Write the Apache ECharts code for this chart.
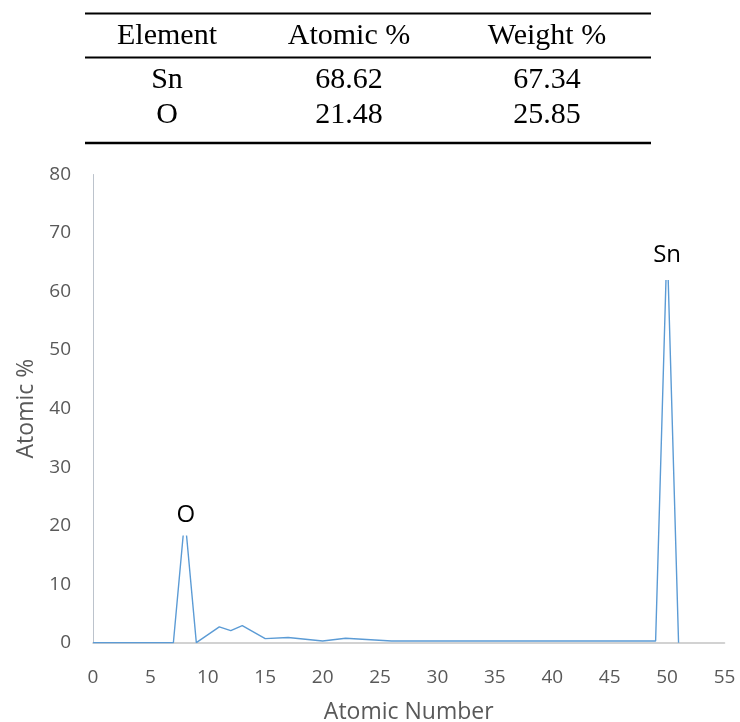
<!DOCTYPE html>
<html>
<head>
<meta charset="utf-8">
<script src="https://cdn.jsdelivr.net/npm/echarts@6/dist/echarts.min.js"></script>
<style>
html,body{margin:0;padding:0;background:#fff;}
#chart{width:740px;height:722px;}
</style>
</head>
<body>
<div id="chart"></div>
<script>
// ---- Table data ----
var tableHeader = ['Element', 'Atomic %', 'Weight %'];
var tableElements = ['Sn', 'O'];
var tableAtomic = ['68.62', '21.48'];
var tableWeight = ['67.34', '25.85'];

// ---- Spectrum data (Atomic number vs Atomic %) ----
var atomicNumbers = [0, 7, 8, 9, 11, 12, 13, 15, 17, 20, 22, 26, 49, 50, 51];
var atomicPercent = [0, 0, 21.48, 0, 2.7, 2.05, 2.9, 0.7, 0.9, 0.3, 0.75, 0.3, 0.3, 68.62, 0];
var peakLabels = {8: 'O', 50: 'Sn'};

// ---- Axis ticks ----
var xTicks = {min: 0, max: 55, interval: 5};
var yTicks = {min: 0, max: 80, interval: 10};

var labelStyles = {
  8:  {offset: [1, -1.7], padding: [5, 5, 9.5, 5]},
  50: {offset: [0, 13.6], padding: [6, 5, 18.5, 5]}
};

var seriesData = atomicNumbers.map(function (x, i) {
  var item = {value: [x, atomicPercent[i]]};
  if (peakLabels[x]) {
    item.label = {
      show: true,
      position: 'inside',
      formatter: peakLabels[x],
      color: '#000',
      fontFamily: 'Open Sans',
      fontSize: 24,
      lineHeight: 26,
      backgroundColor: '#ffffff',
      offset: labelStyles[x].offset,
      padding: labelStyles[x].padding
    };
  }
  return item;
});

// table graphics
var colX = [167, 349, 547];
var rowY = [36.5, 80.5, 115.5];
var graphics = [];
var lineYs = [13.5, 57.5, 143];
var lineWs = [2.2, 1.8, 2.4];
lineYs.forEach(function (y, i) {
  graphics.push({
    type: 'line',
    shape: {x1: 85, y1: y, x2: 651, y2: y},
    style: {stroke: '#000', lineWidth: lineWs[i]}
  });
});
function addText(t, x, y) {
  graphics.push({
    type: 'text',
    x: x, y: y,
    style: {
      text: t,
      fill: '#000',
      font: '30px "Liberation Serif", "Times New Roman", serif',
      textAlign: 'center',
      textVerticalAlign: 'middle'
    }
  });
}
tableHeader.forEach(function (h, c) { addText(h, colX[c], rowY[0]); });
tableElements.forEach(function (e, r) {
  addText(e, colX[0], rowY[r + 1]);
  addText(tableAtomic[r], colX[1], rowY[r + 1]);
  addText(tableWeight[r], colX[2], rowY[r + 1]);
});

var chart = echarts.init(document.getElementById('chart'), null, {renderer: 'canvas'});
chart.setOption({
  animation: false,
  backgroundColor: '#ffffff',
  graphic: graphics,
  grid: {left: 93, right: 15.5, top: 174.5, bottom: 79.3, containLabel: false, outerBoundsMode: 'none'},
  xAxis: {
    type: 'value',
    min: xTicks.min, max: xTicks.max, interval: xTicks.interval,
    name: 'Atomic Number',
    nameLocation: 'middle',
    nameGap: 58,
    nameTextStyle: {color: '#595959', fontFamily: 'Open Sans', fontSize: 23},
    axisLine: {show: true, onZero: false, lineStyle: {color: '#c4c4c4', width: 1.6}},
    axisTick: {show: false},
    splitLine: {show: false},
    axisLabel: {color: '#595959', fontFamily: 'Open Sans', fontSize: 19, margin: 25}
  },
  yAxis: {
    type: 'value',
    min: yTicks.min, max: yTicks.max, interval: yTicks.interval,
    name: 'Atomic %',
    nameLocation: 'middle',
    nameRotate: 90,
    nameGap: 55,
    nameTextStyle: {color: '#595959', fontFamily: 'Open Sans', fontSize: 23},
    axisLine: {show: true, lineStyle: {color: '#bcc3cc', width: 1}},
    axisTick: {show: false},
    splitLine: {show: false},
    axisLabel: {color: '#595959', fontFamily: 'Open Sans', fontSize: 19, margin: 22}
  },
  series: [{
    type: 'line',
    data: seriesData,
    showSymbol: true,
    symbol: 'circle',
    symbolSize: 1,
    itemStyle: {color: 'rgba(0,0,0,0)'},
    lineStyle: {color: '#5b9bd5', width: 1.4},
    emphasis: {disabled: true},
    silent: true
  }]
});
</script>
</body>
</html>
